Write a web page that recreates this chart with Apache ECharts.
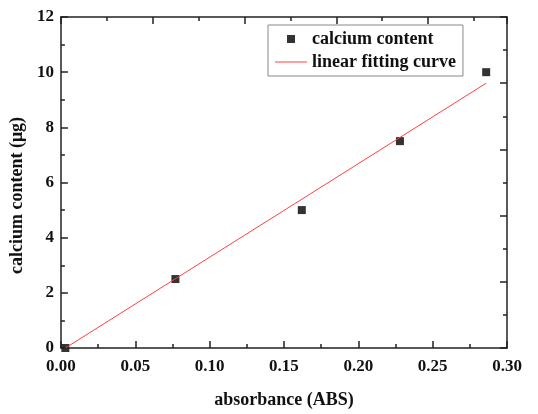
<!DOCTYPE html>
<html>
<head>
<meta charset="utf-8">
<script src="https://cdn.jsdelivr.net/npm/echarts@6/dist/echarts.min.js"></script>
<style>
  html, body { margin: 0; padding: 0; background: #fff; }
  #chart { width: 538px; height: 414px; }
</style>
</head>
<body>
<div id="chart"></div>
<script>
// measured points
const absorbance = [0.003, 0.077, 0.162, 0.228, 0.286]
const calcium = [0, 2.5, 5, 7.5, 10]
// fitted line, ends
const fitX = [0.003, 0.286]
const fitY = [0, 9.6]

const font = 'Liberation Serif'
const axisColor = '#222'

const chart = echarts.init(document.getElementById('chart'))

const inTick = { show: true, inside: true, length: 7, lineStyle: { color: axisColor, width: 1.5 } }
const inMinor = { show: true, splitNumber: 2, length: 4, lineStyle: { color: axisColor, width: 1.5 } }

const option = {
  animation: false,
  grid: { left: 60, right: 31, top: 17, bottom: 62 },
  legend: {
    orient: 'vertical',
    left: 268,
    top: 25,
    width: 192,
    padding: [5, 7, 5, 7],
    itemGap: 5,
    itemWidth: 32,
    itemHeight: 8,
    symbolKeepAspect: true,
    borderColor: '#888',
    borderWidth: 1,
    textStyle: { fontFamily: font, fontWeight: 'bold', fontSize: 18, color: '#111' },
    data: [
      { name: 'calcium content', icon: 'path://M0,0h10v10h-10z' },
      { name: 'linear fitting curve', icon: 'path://M0,0h32v1h-32z' }
    ]
  },
  xAxis: [
    {
      type: 'value', min: 0, max: 0.3, interval: 0.05,
      name: 'absorbance (ABS)', nameLocation: 'middle', nameGap: 43,
      nameTextStyle: { fontFamily: font, fontWeight: 'bold', fontSize: 18, color: '#111' },
      axisLine: { lineStyle: { color: axisColor, width: 1.5 } },
      axisTick: inTick, minorTick: inMinor,
      splitLine: { show: false },
      axisLabel: {
        fontFamily: font, fontWeight: 'bold', fontSize: 17, color: '#111', margin: 10,
        formatter: v => v.toFixed(2)
      }
    },
    {
      type: 'value', position: 'top', min: 0, max: 4.86, interval: 1,
      axisLine: { show: true, onZero: false, lineStyle: { color: axisColor, width: 1.5 } },
      axisTick: inTick, minorTick: inMinor,
      splitLine: { show: false }, axisLabel: { show: false }
    }
  ],
  yAxis: [
    {
      type: 'value', min: 0, max: 12, interval: 2,
      name: 'calcium content (μg)', nameLocation: 'middle', nameGap: 25,
      nameTextStyle: {
        fontFamily: font, fontWeight: 'bold', fontSize: 18, color: '#111',
        padding: [0, 26, 0, 0]
      },
      axisLine: { show: true, lineStyle: { color: axisColor, width: 1.5 } },
      axisTick: inTick, minorTick: inMinor,
      splitLine: { show: false },
      axisLabel: { fontFamily: font, fontWeight: 'bold', fontSize: 17, color: '#111', margin: 7 }
    },
    {
      type: 'value', position: 'right', min: 0, max: 5, interval: 1,
      axisLine: { show: true, onZero: false, lineStyle: { color: axisColor, width: 1.5 } },
      axisTick: inTick, minorTick: inMinor,
      splitLine: { show: false }, axisLabel: { show: false }
    }
  ],
  series: [
    {
      name: 'linear fitting curve',
      type: 'line',
      symbol: 'none',
      lineStyle: { color: '#ff4040', width: 1 },
      itemStyle: { color: '#ff4040' },
      data: fitX.map((x, i) => [x, fitY[i]])
    },
    {
      name: 'calcium content',
      type: 'scatter',
      symbol: 'rect',
      symbolSize: 8,
      z: -1,
      itemStyle: { color: '#000' },
      data: absorbance.map((x, i) => [x, calcium[i]])
    }
  ]
}

chart.setOption(option)
</script>
</body>
</html>
